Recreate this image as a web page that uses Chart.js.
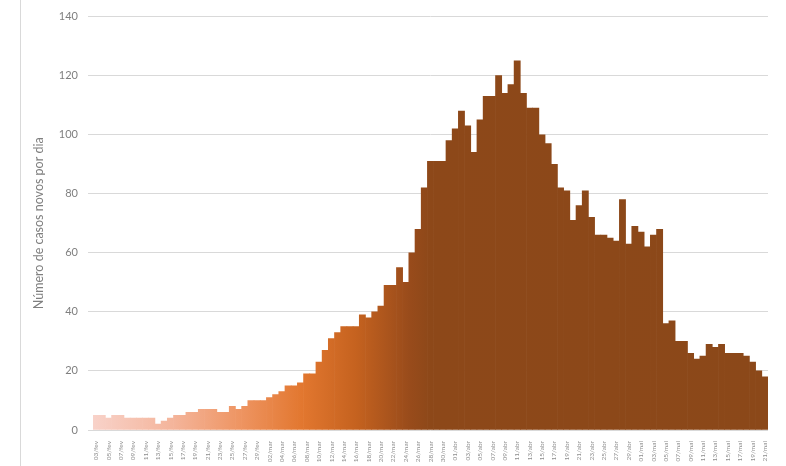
<!DOCTYPE html>
<html>
<head>
<meta charset="utf-8">
<script src="https://cdn.jsdelivr.net/npm/chart.js@4.4.0/dist/chart.umd.min.js"></script>
<style>
  html, body { margin: 0; padding: 0; background: #fff; }
  #wrap { position: relative; width: 786px; height: 466px; overflow: hidden; }
  #moldura { position: absolute; left: 20px; top: 0; width: 1px; height: 466px; background: #d9d9d9; }
</style>
</head>
<body>
<div id="wrap">
  <canvas id="grafico" width="786" height="466"></canvas>
  <div id="moldura"></div>
</div>
<script>
const dias = [
  "03/fev", "04/fev", "05/fev", "06/fev", "07/fev", "08/fev", "09/fev", "10/fev", "11/fev", "12/fev",
  "13/fev", "14/fev", "15/fev", "16/fev", "17/fev", "18/fev", "19/fev", "20/fev", "21/fev", "22/fev",
  "23/fev", "24/fev", "25/fev", "26/fev", "27/fev", "28/fev", "29/fev",
  "01/mar", "02/mar", "03/mar", "04/mar", "05/mar", "06/mar", "07/mar", "08/mar", "09/mar", "10/mar",
  "11/mar", "12/mar", "13/mar", "14/mar", "15/mar", "16/mar", "17/mar", "18/mar", "19/mar", "20/mar",
  "21/mar", "22/mar", "23/mar", "24/mar", "25/mar", "26/mar", "27/mar", "28/mar", "29/mar", "30/mar", "31/mar",
  "01/abr", "02/abr", "03/abr", "04/abr", "05/abr", "06/abr", "07/abr", "08/abr", "09/abr", "10/abr",
  "11/abr", "12/abr", "13/abr", "14/abr", "15/abr", "16/abr", "17/abr", "18/abr", "19/abr", "20/abr",
  "21/abr", "22/abr", "23/abr", "24/abr", "25/abr", "26/abr", "27/abr", "28/abr", "29/abr", "30/abr",
  "01/mai", "02/mai", "03/mai", "04/mai", "05/mai", "06/mai", "07/mai", "08/mai", "09/mai", "10/mai",
  "11/mai", "12/mai", "13/mai", "14/mai", "15/mai", "16/mai", "17/mai", "18/mai", "19/mai", "20/mai", "21/mai"
];

const casosNovos = [
  5, 5, 4, 5, 5, 4, 4, 4, 4, 4,
  2, 3, 4, 5, 5, 6, 6, 7, 7, 7,
  6, 6, 8, 7, 8, 10, 10, 10, 11, 12,
  13, 15, 15, 16, 19, 19, 23, 27, 31, 33,
  35, 35, 35, 39, 38, 40, 42, 49, 49, 55,
  50, 60, 68, 82, 91, 91, 91, 98, 102, 108,
  103, 94, 105, 113, 113, 120, 114, 117, 125, 114,
  109, 109, 100, 97, 90, 82, 81, 71, 76, 81,
  72, 66, 66, 65, 64, 78, 63, 69, 67, 62,
  66, 68, 36, 37, 30, 30, 26, 24, 25, 29,
  28, 29, 26, 26, 26, 25, 23, 20, 18
];

const yMin = 0;
const yMax = 140;
const yPasso = 20;

const tituloY = "Número de casos novos por dia";

// degradê da esquerda (rosa claro) para a direita (castanho)
function degrade(context) {
  const chart = context.chart;
  const area = chart.chartArea;
  if (!area) return "#8b4819";
  const g = chart.ctx.createLinearGradient(area.left, 0, area.right, 0);
  g.addColorStop(0, "#f8d2c9");
  g.addColorStop(0.12, "#f4b49a");
  g.addColorStop(0.22, "#ee9461");
  g.addColorStop(0.31, "#e2772f");
  g.addColorStop(0.39, "#c5621f");
  g.addColorStop(0.47, "#984b1b");
  g.addColorStop(0.5, "#8d4819");
  g.addColorStop(1, "#8b4819");
  return g;
}

const ctx = document.getElementById("grafico");

new Chart(ctx, {
  type: "bar",
  data: {
    labels: dias,
    datasets: [
      {
        label: "Casos novos",
        data: casosNovos,
        backgroundColor: degrade,
        borderWidth: 0,
        barPercentage: 1,
        categoryPercentage: 1,
      },
    ],
  },
  options: {
    responsive: false,
    devicePixelRatio: 1,
    animation: false,
    layout: {
      padding: { left: 20, right: 18, top: 10, bottom: 0 },
    },
    plugins: {
      legend: { display: false },
      tooltip: { enabled: false },
    },
    scales: {
      x: {
        grid: { display: false },
        border: { display: false },
        ticks: {
          autoSkip: false,
          maxRotation: 90,
          minRotation: 90,
          padding: 3,
          color: "#8c8c8c",
          font: { family: "Lato", size: 6.5 },
          callback: function (value, index) {
            return index % 2 === 0 ? dias[index] : "";
          },
        },
        afterFit: function (scale) {
          scale.height = 36;
        },
      },
      y: {
        min: yMin,
        max: yMax,
        border: { display: false },
        grid: {
          color: "#d9d9d9",
          tickLength: 5,
        },
        ticks: {
          stepSize: yPasso,
          padding: 10,
          color: "#7f7f7f",
          font: { family: "Lato", size: 11 },
        },
        title: {
          display: true,
          text: tituloY,
          color: "#7f7f7f",
          font: { family: "Lato", size: 12.5 },
          padding: { top: 11, bottom: 0 },
        },
        afterFit: function (scale) {
          scale.width = 73;
        },
      },
    },
  },
});
</script>
</body>
</html>
